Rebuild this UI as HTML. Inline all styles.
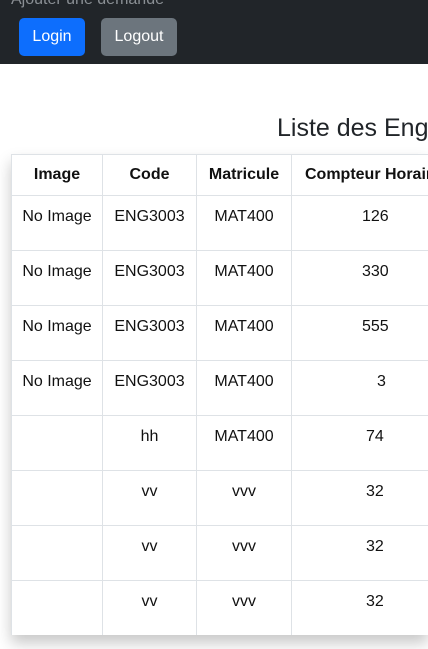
<!DOCTYPE html>
<html><head><style>
*{box-sizing:border-box;margin:0;padding:0}
html,body{width:428px;height:649px;overflow:hidden}
body{background:#fff;font-family:"Liberation Sans",sans-serif;position:relative}
.nav{position:absolute;left:0;top:0;width:428px;height:64px;background:#212529;overflow:hidden}
.top{position:absolute;left:11px;top:-9px;color:#8a8f94;font-size:16px}
.btn{position:absolute;top:18px;height:38px;border-radius:5px;color:#fff;font-size:16px;line-height:38px;text-align:center}
h1{position:absolute;left:277px;top:114px;font-size:25px;font-weight:normal;color:#212529;white-space:nowrap;width:151px;overflow:hidden}
.wrap{position:absolute;left:0;top:0;width:428px;height:649px;overflow:hidden}
.tbl{position:absolute;left:11px;top:154px;width:417px;height:481px;background:#fff;box-shadow:0 8px 14px rgba(0,0,0,.22);overflow:hidden}
table{border-collapse:collapse;font-size:16px;color:#111;table-layout:fixed;width:440px}
td,th{border:1px solid #dee2e6;text-align:center;padding:0;white-space:nowrap;overflow:hidden}
th{height:41px;font-weight:bold;font-size:16px}
td{height:55px;vertical-align:top;padding-top:12px}
td.n{text-align:left;padding-left:70px}
</style></head><body>
<div class="nav"><div class="top">Ajouter une demande</div>
<div class="btn" style="left:19px;width:66px;background:#0d6efd">Login</div>
<div class="btn" style="left:101px;width:76px;background:#6c757d">Logout</div></div>
<h1>Liste des Engins</h1>
<div class="wrap"><div class="tbl"><table>
<colgroup><col style="width:91px"><col style="width:94px"><col style="width:95px"><col style="width:160px"></colgroup>
<tr><th>Image</th><th>Code</th><th>Matricule</th><th style="text-align:left;padding-left:13px">Compteur Horaire</th></tr>
<tr><td>No Image</td><td>ENG3003</td><td>MAT400</td><td class="n">126</td></tr>
<tr><td>No Image</td><td>ENG3003</td><td>MAT400</td><td class="n">330</td></tr>
<tr><td>No Image</td><td>ENG3003</td><td>MAT400</td><td class="n">555</td></tr>
<tr><td>No Image</td><td>ENG3003</td><td>MAT400</td><td class="n" style="padding-left:85px">3</td></tr>
<tr><td></td><td>hh</td><td>MAT400</td><td class="n" style="padding-left:74px">74</td></tr>
<tr><td></td><td>vv</td><td>vvv</td><td class="n" style="padding-left:74px">32</td></tr>
<tr><td></td><td>vv</td><td>vvv</td><td class="n" style="padding-left:74px">32</td></tr>
<tr><td></td><td>vv</td><td>vvv</td><td class="n" style="padding-left:74px">32</td></tr>
</table></div></div>
</body></html>
